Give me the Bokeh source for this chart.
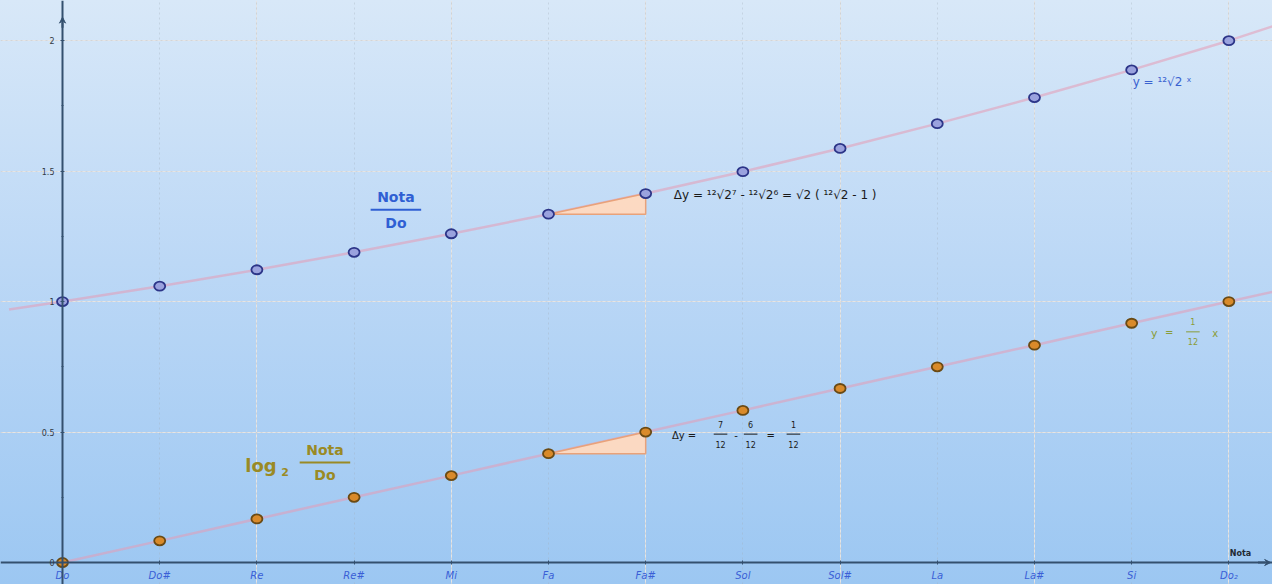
from bokeh.plotting import figure
from bokeh.models import (Range1d, LinearAxis, FixedTicker, Grid, Label, Arrow, VeeHead)
from bokeh.embed import file_html
from bokeh.resources import INLINE

# ---- data ----
notes = ["Do", "Do#", "Re", "Re#", "Mi", "Fa", "Fa#", "Sol", "Sol#", "La", "La#", "Si", "Do₂"]
note_idx = [0, 1, 2, 3, 4, 5, 6, 7, 8, 9, 10, 11, 12]
ratio = [1.0, 1.059, 1.122, 1.189, 1.26, 1.335, 1.414, 1.498, 1.587, 1.682, 1.782, 1.888, 2.0]
log_ratio = [0.0, 0.083, 0.167, 0.25, 0.333, 0.417, 0.5, 0.583, 0.667, 0.75, 0.833, 0.917, 1.0]
# graph lines extend beyond the points
ratio_line_x = [-0.55] + note_idx + [12.45]
ratio_line_y = [0.97] + ratio + [2.055]
log_line_x = note_idx + [12.45]
log_line_y = log_ratio + [1.037]
y_ticks = [0, 0.5, 1, 1.5, 2]
y_tick_labels = ["0", "0.5", "1", "1.5", "2"]
step_from, step_to = 5, 6  # Fa -> Fa#

FONT = "DejaVu Sans"
BLUE_TXT = "#2f5fd3"
OLIVE = "#9a8a24"
GREEN = "#8a9c38"
AXIS = "#34506e"

p = figure(width=1272, height=584,
           x_range=Range1d(-0.638, 12.449), y_range=Range1d(-0.0843, 2.154),
           output_backend="svg", toolbar_location=None,
           x_axis_location=None, y_axis_location=None, min_border=0)
p.background_fill_alpha = 0
p.border_fill_alpha = 0
p.outline_line_color = None
p.styles = {"background": "linear-gradient(to bottom, #d8e8f8 0%, #bcd8f6 45%, #9cc7f2 100%)"}

xticker = FixedTicker(ticks=note_idx)
yticker = FixedTicker(ticks=y_ticks, minor_ticks=[0.25, 0.75, 1.25, 1.75])

p.add_layout(Grid(dimension=0, ticker=xticker, grid_line_color="#a4aebb",
                  grid_line_alpha=0.35, grid_line_dash="2 3"))
p.add_layout(Grid(dimension=1, ticker=FixedTicker(ticks=y_ticks), grid_line_color="#a4aebb",
                  grid_line_alpha=0.3, grid_line_dash="2 3"))

xaxis = LinearAxis(fixed_location=0, ticker=xticker,
                   major_label_overrides={i: n for i, n in zip(note_idx, notes)})
xaxis.axis_line_color = AXIS
xaxis.axis_line_width = 2
xaxis.major_tick_in = 2
xaxis.major_tick_out = 2
xaxis.major_tick_line_color = AXIS
xaxis.minor_tick_line_color = None
xaxis.major_label_text_color = "#3a5fd6"
xaxis.major_label_text_font = FONT
xaxis.major_label_text_font_style = "italic"
xaxis.major_label_text_font_size = "10px"
xaxis.major_label_standoff = 5
p.add_layout(xaxis, "below")

yaxis = LinearAxis(fixed_location=0, ticker=yticker,
                   major_label_overrides={t: l for t, l in zip(y_ticks, y_tick_labels)})
yaxis.axis_line_color = AXIS
yaxis.axis_line_width = 2
yaxis.major_tick_in = 2
yaxis.major_tick_out = 2
yaxis.minor_tick_in = 1
yaxis.minor_tick_out = 1
yaxis.major_tick_line_color = AXIS
yaxis.minor_tick_line_color = AXIS
yaxis.major_label_text_color = "#333a44"
yaxis.major_label_text_font = FONT
yaxis.major_label_text_font_size = "8px"
yaxis.major_label_standoff = 6
p.add_layout(yaxis, "left")

p.add_layout(Arrow(end=VeeHead(size=6, line_color=AXIS, fill_color=AXIS),
                   x_start=12.3, y_start=0, x_end=12.43, y_end=0, line_color=AXIS, line_width=2))
p.add_layout(Arrow(end=VeeHead(size=6, line_color=AXIS, fill_color=AXIS),
                   x_start=0, y_start=2.05, x_end=0, y_end=2.09, line_color=AXIS, line_width=2))

# graph lines
p.line(ratio_line_x, ratio_line_y, line_color="#e69ab4", line_width=2.5, line_alpha=0.55)
p.line(log_line_x, log_line_y, line_color="#e69ab4", line_width=2.5, line_alpha=0.55)

# step triangles (Fa -> Fa#)
for ys in (ratio, log_ratio):
    p.patch([note_idx[step_from], note_idx[step_to], note_idx[step_to]],
            [ys[step_from], ys[step_from], ys[step_to]],
            fill_color="#ffd9bf", fill_alpha=0.95, line_color="#e8a27a", line_width=1.5)

# points
p.ellipse(note_idx, ratio, width=11, height=9, width_units="screen", height_units="screen",
          fill_color="#9aa2de", line_color="#2c3588", line_width=1.8)
p.ellipse(note_idx, log_ratio, width=11, height=9, width_units="screen", height_units="screen",
          fill_color="#d98a2a", line_color="#6a4a14", line_width=1.8)


def txt(x, y, s, color="#111111", size="10px", bold=False, align="center", baseline="middle"):
    p.add_layout(Label(x=x, y=y, text=s, text_color=color, text_font=FONT, text_font_size=size,
                       text_font_style="bold" if bold else "normal", text_align=align,
                       text_baseline=baseline))


def frac(xc, yc, num, den, color="#111111", size="8px", half=0.06, bold=False, gap=0.038, lw=1):
    txt(xc, yc + gap, num, color, size, bold)
    txt(xc, yc - gap, den, color, size, bold)
    p.segment(x0=[xc - half], y0=[yc], x1=[xc + half], y1=[yc], line_color=color, line_width=lw)


# Nota / Do (blue)
frac(3.43, 1.352, "Nota", "Do", color=BLUE_TXT, size="14px", half=0.26, bold=True, gap=0.05, lw=2)
# log2 Nota / Do (olive)
txt(1.88, 0.372, "log", OLIVE, "18px", True, align="left")
txt(2.25, 0.345, "2", OLIVE, "11px", True, align="left")
frac(2.70, 0.383, "Nota", "Do", color=OLIVE, size="14px", half=0.26, bold=True, gap=0.048, lw=2)

# Δy for ratios
txt(6.29, 1.407, "Δy =  ¹²√2⁷  -  ¹²√2⁶  =  √2 ( ¹²√2 - 1 )", "#1a1a1a", "12px", align="left")
# Δy for logs
txt(6.27, 0.488, "Δy =", "#1a1a1a", "10px", align="left")
frac(6.77, 0.492, "7", "12", "#1a1a1a", "8px", half=0.07, gap=0.038)
txt(6.93, 0.488, "-", "#1a1a1a", "10px")
frac(7.08, 0.492, "6", "12", "#1a1a1a", "8px", half=0.07, gap=0.038)
txt(7.285, 0.488, "=", "#1a1a1a", "10px")
frac(7.52, 0.492, "1", "12", "#1a1a1a", "8px", half=0.07, gap=0.038)

# function labels
txt(11.01, 1.84, "y =  ¹²√2 ˣ", "#3a62d0", "12px", align="left")
txt(11.2, 0.878, "y", GREEN, "11px", align="left")
txt(11.385, 0.88, "=", GREEN, "10px")
frac(11.63, 0.884, "1", "12", GREEN, "8px", half=0.07, gap=0.038)
txt(11.86, 0.878, "x", GREEN, "10px")

# axis name
txt(12.12, 0.036, "Nota", "#222a33", "8px", True)

open("out.html", "w").write(file_html(p, INLINE))
